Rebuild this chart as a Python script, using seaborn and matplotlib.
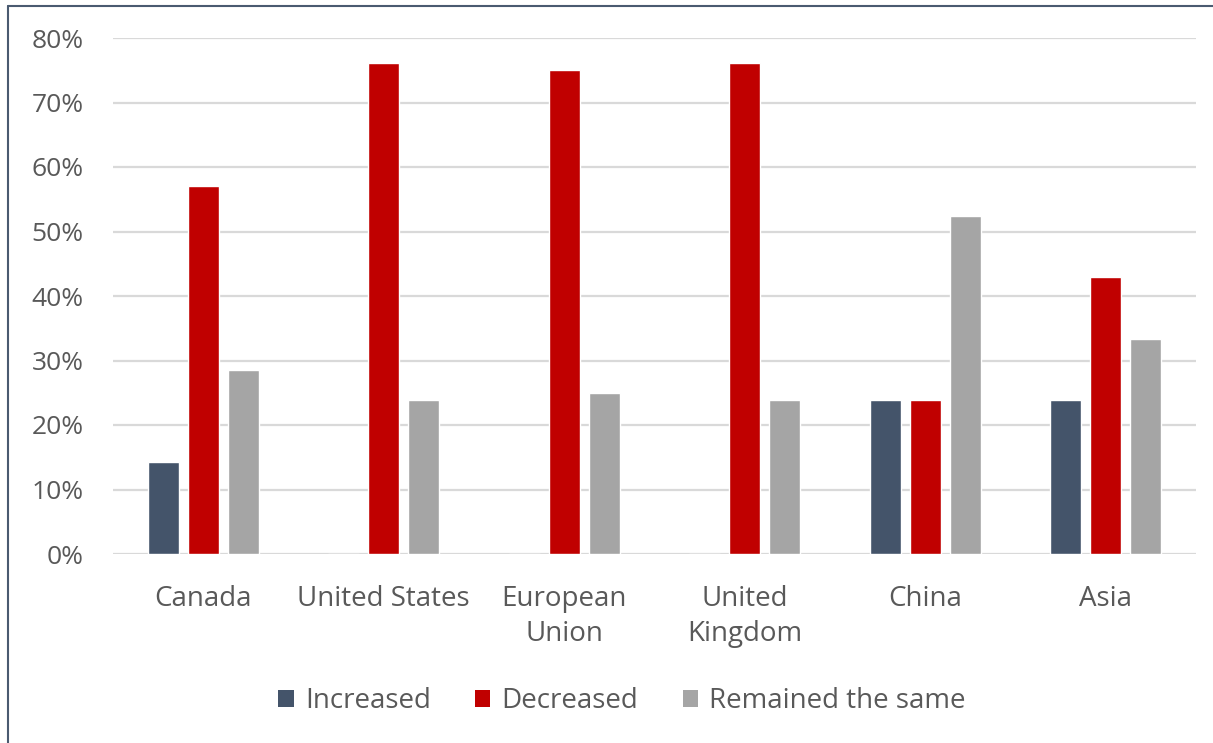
import matplotlib
matplotlib.use("Agg")
import matplotlib.pyplot as plt
import seaborn as sns
import pandas as pd
from matplotlib.ticker import PercentFormatter
from matplotlib.patches import Patch

categories = ["Canada", "United States", "European\nUnion", "United\nKingdom", "China", "Asia"]
series_names = ["Increased", "Decreased", "Remained the same"]
increased = [14.3, 0.0, 0.0, 0.0, 23.8, 23.8]
decreased = [57.1, 76.2, 75.0, 76.2, 23.8, 42.9]
remained = [28.6, 23.8, 25.0, 23.8, 52.4, 33.3]
colors = ["#44546A", "#C00000", "#A5A5A5"]
y_ticks = [0, 10, 20, 30, 40, 50, 60, 70, 80]

rows = []
for name, vals in zip(series_names, [increased, decreased, remained]):
    for cat, v in zip(categories, vals):
        rows.append({"Region": cat, "Response": name, "Share": v})
df = pd.DataFrame(rows)

sns.set_theme(style="white")
plt.rcParams["font.family"] = ["Open Sans", "DejaVu Sans"]
text_color = "#595959"

fig = plt.figure(figsize=(12.13, 7.43), dpi=100)
ax = fig.add_axes([113 / 1213, 1 - 554 / 743, (1196 - 113) / 1213, (554 - 38) / 743])

sns.barplot(data=df, x="Region", y="Share", hue="Response", order=categories,
            hue_order=series_names, palette=colors, width=0.665, gap=0.23,
            saturation=1, ax=ax, legend=False)

ax.set_ylim(0, 80)
ax.set_yticks(y_ticks)
ax.yaxis.set_major_formatter(PercentFormatter(decimals=0))
ax.set_xlim(-0.5, len(categories) - 0.5)
ax.grid(axis="y", color="#D9D9D9", linewidth=1.6)
ax.set_axisbelow(True)
for s in ax.spines.values():
    s.set_visible(False)
ax.set_xlabel("")
ax.set_ylabel("")
ax.tick_params(axis="both", length=0, colors=text_color)
ax.tick_params(axis="y", pad=21, labelsize=19)
ax.tick_params(axis="x", pad=22, labelsize=20)
for lbl in ax.get_xticklabels():
    lbl.set_linespacing(1.35)

handles = [Patch(facecolor=c, edgecolor="none") for c in colors]
fig.legend(handles, series_names, loc="center", bbox_to_anchor=(622 / 1213, 1 - 701 / 743),
           ncol=3, frameon=False, fontsize=20, labelcolor=text_color,
           handlelength=0.55, handleheight=0.55, handletextpad=0.4, columnspacing=1.6)

# outer chart frame
frame_color = "#4A5A70"
fig.add_artist(plt.Line2D([7.5 / 1213, 7.5 / 1213], [0, 1 - 5.5 / 743],
                          transform=fig.transFigure, color=frame_color, linewidth=1.5))
fig.add_artist(plt.Line2D([7.5 / 1213, 1], [1 - 5.5 / 743, 1 - 5.5 / 743],
                          transform=fig.transFigure, color=frame_color, linewidth=1.5))

fig.savefig("out.png", dpi=100, facecolor="white")
